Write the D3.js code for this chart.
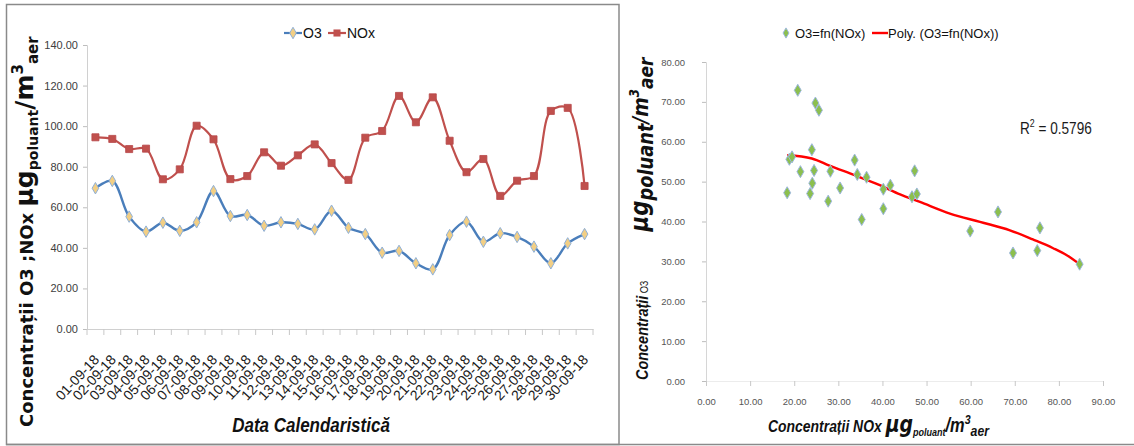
<!DOCTYPE html>
<html>
<head>
<meta charset="utf-8">
<script src="https://cdn.jsdelivr.net/npm/d3@7/dist/d3.min.js"></script>
<style>
body { margin: 0; background: #fff; }
svg { display: block; }
</style>
</head>
<body>
<div id="chart"></div>
<script>
// Data - left chart (daily concentrations, September 2018)
var dates = ["01-09-18","02-09-18","03-09-18","04-09-18","05-09-18","06-09-18","07-09-18","08-09-18","09-09-18","10-09-18",
  "11-09-18","12-09-18","13-09-18","14-09-18","15-09-18","16-09-18","17-09-18","18-09-18","19-09-18","20-09-18",
  "21-09-18","22-09-18","23-09-18","24-09-18","25-09-18","26-09-18","27-09-18","28-09-18","29-09-18","30-09-18"];
var o3Values = [69.4,73.0,55.4,48.0,52.4,48.4,52.6,68.0,55.7,56.2,50.9,52.6,51.8,49.1,58.3,
  49.9,46.8,37.6,38.5,32.4,29.4,46.3,52.9,43.0,47.2,45.4,40.6,32.4,42.2,46.8];
var noxValues = [94.5,93.7,88.7,88.9,73.8,78.7,100.2,93.5,73.9,75.4,87.1,80.5,85.6,91.0,81.8,
  73.5,94.3,97.6,114.9,101.9,114.2,92.8,77.3,83.8,65.6,73.1,75.4,107.5,109.0,70.5];
var leftTicks = [0,20,40,60,80,100,120,140];

// Data - right chart (O3 = fn(NOx))
var scatterNox = [18.4,18.9,19.5,20.8,21.4,23.6,24.0,24.1,24.5,24.8,25.6,27.7,28.2,30.4,33.7,
  34.3,35.3,36.4,40.2,40.2,41.8,46.7,47.3,47.8,66.2,59.9,69.6,75.1,75.7,84.7];
var scatterO3 = [47.2,55.6,56.2,72.9,52.5,47.0,58.0,49.6,52.8,69.7,67.9,45.1,52.6,48.4,55.4,
  51.8,40.5,51.1,43.2,48.1,49.1,46.2,52.7,46.9,42.4,37.6,32.1,32.7,38.4,29.3];
// Polynomial trend line
var trendNox = [18.4,24,28,33.7,39.4,44,48.5,55.3,62.1,68.9,74.1,78.7,81.7,84.7];
var trendO3 = [56.6,55.8,54.0,51.6,49.1,46.8,44.9,42.0,39.9,37.8,35.5,33.3,31.6,29.3];
var scatterXTicks = [0,10,20,30,40,50,60,70,80,90];
var scatterYTicks = [0,10,20,30,40,50,60,70,80];
var rSquared = "0.5796";

var W = 1134, H = 446;
var svg = d3.select("#chart").append("svg").attr("width", W).attr("height", H);
var fmt = d3.format(".2f");
var sans = "'Liberation Sans',Arial,sans-serif";
var dejavu = "'DejaVu Sans',Verdana,sans-serif";

// frames
svg.append("rect").attr("x", 6.5).attr("y", 4.5).attr("width", 612.5).attr("height", 440)
  .attr("fill", "none").attr("stroke", "#8a8a8a").attr("stroke-width", 1.5);
svg.append("line").attr("x1", 6).attr("x2", W).attr("y1", 444.5).attr("y2", 444.5)
  .attr("stroke", "#8a8a8a").attr("stroke-width", 1.5);

// ---------- LEFT CHART ----------
var x = d3.scaleBand().domain(dates).range([87, 593]);
var y = d3.scaleLinear().domain([0, 140]).range([329, 45]);
var left = svg.append("g");

var yAxis = left.append("g").attr("transform", "translate(87,0)")
  .call(d3.axisLeft(y).tickValues(leftTicks).tickFormat(fmt).tickSize(4).tickPadding(5));
yAxis.select(".domain").attr("stroke", "#d0d0d0");
yAxis.selectAll(".tick line").attr("stroke", "#bdbdbd");
yAxis.selectAll("text").attr("font-family", sans).attr("font-size", 11).attr("fill", "#404040");

var xAxis = left.append("g").attr("transform", "translate(0,329)")
  .call(d3.axisBottom(x).tickSize(0).tickPadding(0));
xAxis.select(".domain").attr("stroke", "#d0d0d0");
xAxis.selectAll("text").attr("font-family", sans).attr("font-size", 14).attr("fill", "#202020")
  .attr("text-anchor", "end").attr("y", 0).attr("dy", "0.35em")
  .attr("transform", "translate(1,28) rotate(-47)");
// category separators (tick marks between dates)
var edges = dates.map(function(d) { return x(d); }).concat([x.range()[1]]);
left.append("g").selectAll("line").data(edges).join("line")
  .attr("x1", function(d) { return d; }).attr("x2", function(d) { return d; })
  .attr("y1", 329).attr("y2", 335).attr("stroke", "#c8c8c8");

var cx = function(d, i) { return x(dates[i]) + x.bandwidth() / 2; };
var line = d3.line().x(function(d, i) { return cx(d, i); }).y(function(d) { return y(d); })
  .curve(d3.curveCatmullRom.alpha(0.5));

left.append("path").datum(noxValues).attr("d", line).attr("fill", "none")
  .attr("stroke", "#c0504d").attr("stroke-width", 2.2);
left.append("path").datum(o3Values).attr("d", line).attr("fill", "none")
  .attr("stroke", "#4a7ebb").attr("stroke-width", 2.4);

var sq = d3.symbol().type(d3.symbolSquare).size(50);
var dia = d3.symbol().type(d3.symbolDiamond).size(38);
left.append("g").selectAll("path").data(noxValues).join("path").attr("d", sq)
  .attr("transform", function(d, i) { return "translate(" + cx(d, i) + "," + y(d) + ")"; })
  .attr("fill", "#c0504d").attr("stroke", "#b8474a").attr("stroke-width", 0.8);
left.append("g").selectAll("path").data(o3Values).join("path").attr("d", dia)
  .attr("transform", function(d, i) { return "translate(" + cx(d, i) + "," + y(d) + ")"; })
  .attr("fill", "#f2cf85").attr("stroke", "#8fb0d8").attr("stroke-width", 1);

// legend
var lg = left.append("g").attr("font-family", sans).attr("font-size", 14).attr("fill", "#111");
lg.append("line").attr("x1", 284).attr("x2", 302).attr("y1", 33).attr("y2", 33).attr("stroke", "#4a7ebb").attr("stroke-width", 2.2);
lg.append("path").attr("d", dia).attr("transform", "translate(293,33)").attr("fill", "#f2cf85").attr("stroke", "#8fb0d8");
lg.append("text").attr("x", 303).attr("y", 38).text("O3");
lg.append("line").attr("x1", 328).attr("x2", 346).attr("y1", 33).attr("y2", 33).attr("stroke", "#c0504d").attr("stroke-width", 2.2);
lg.append("path").attr("d", sq).attr("transform", "translate(337,33)").attr("fill", "#c0504d");
lg.append("text").attr("x", 347).attr("y", 38).text("NOx");

// axis titles
left.append("text").attr("transform", "translate(311,432) scale(0.85,1)").attr("text-anchor", "middle")
  .attr("font-family", sans).attr("font-weight", "bold").attr("font-style", "italic")
  .attr("font-size", 20).attr("fill", "#111").text("Data Calendaristică");

var yt = left.append("text").attr("transform", "translate(33,427) rotate(-90)")
  .attr("font-family", dejavu).attr("font-weight", "bold").attr("fill", "#111");
yt.append("tspan").attr("font-size", 18).text("Concentrații O3 ;NOx ");
yt.append("tspan").attr("font-size", 25).text("µg");
yt.append("tspan").attr("font-size", 14).attr("dy", 5).text("poluant");
yt.append("tspan").attr("font-size", 25).attr("dy", -5).text("/m");
yt.append("tspan").attr("font-size", 15).attr("dy", -10).text("3");
yt.append("tspan").attr("font-size", 15).attr("dy", 15).text("aer");

// ---------- RIGHT CHART ----------
var sx = d3.scaleLinear().domain([0, 90]).range([706, 1103]);
var sy = d3.scaleLinear().domain([0, 80]).range([381, 62]);
var right = svg.append("g");

var syAxis = right.append("g").attr("transform", "translate(706,0)")
  .call(d3.axisLeft(sy).tickValues(scatterYTicks).tickFormat(fmt).tickSize(4).tickPadding(17));
syAxis.select(".domain").attr("stroke", "#d6d6d6");
syAxis.selectAll(".tick line").attr("stroke", "#bdbdbd");
syAxis.selectAll("text").attr("font-family", sans).attr("font-size", 9.5).attr("fill", "#555");

var sxAxis = right.append("g").attr("transform", "translate(0,381)")
  .call(d3.axisBottom(sx).tickValues(scatterXTicks).tickFormat(fmt).tickSize(5).tickPadding(12));
sxAxis.select(".domain").attr("stroke", "#ececec");
sxAxis.selectAll(".tick line").attr("stroke", "#c8c8c8");
sxAxis.selectAll("text").attr("font-family", sans).attr("font-size", 9.5).attr("fill", "#555");

var trendLine = d3.line().x(function(d, i) { return sx(trendNox[i]); }).y(function(d) { return sy(d); })
  .curve(d3.curveMonotoneX);
right.append("path").datum(trendO3).attr("d", trendLine).attr("fill", "none")
  .attr("stroke", "#ff0000").attr("stroke-width", 2.4);

var sdia = d3.symbol().type(d3.symbolDiamond).size(42);
right.append("g").selectAll("path").data(scatterO3).join("path").attr("d", sdia)
  .attr("transform", function(d, i) { return "translate(" + sx(scatterNox[i]) + "," + sy(d) + ")"; })
  .attr("fill", "#8cbf4f").attr("stroke", "#9db8de").attr("stroke-width", 1);

var r2 = right.append("text").attr("transform", "translate(1020,134) scale(0.8,1)")
  .attr("font-family", sans).attr("font-size", 17).attr("fill", "#1a1a1a");
r2.append("tspan").text("R");
r2.append("tspan").attr("font-size", 11).attr("dy", -7).text("2");
r2.append("tspan").attr("dy", 7).text(" = " + rSquared);

// legend
var rl = right.append("g").attr("font-family", sans).attr("font-size", 13).attr("fill", "#111");
rl.append("path").attr("d", d3.symbol().type(d3.symbolDiamond).size(30)).attr("transform", "translate(786,33)")
  .attr("fill", "#8cbf4f").attr("stroke", "#9db8de");
rl.append("text").attr("x", 795).attr("y", 38).text("O3=fn(NOx)");
rl.append("line").attr("x1", 872).attr("x2", 888).attr("y1", 33).attr("y2", 33).attr("stroke", "#ff0000").attr("stroke-width", 2.4);
rl.append("text").attr("x", 888).attr("y", 38).text("Poly. (O3=fn(NOx))");

// axis titles
var xt = right.append("text").attr("transform", "translate(768,432) scale(0.82,1)")
  .attr("font-family", sans).attr("font-weight", "bold").attr("font-style", "italic").attr("fill", "#111");
xt.append("tspan").attr("font-size", 17).text("Concentrații NOx ");
xt.append("tspan").attr("font-size", 23).attr("font-family", dejavu).text("µg");
xt.append("tspan").attr("font-size", 11).attr("dy", 4).text("poluant");
xt.append("tspan").attr("font-size", 20).attr("dy", -4).text("/m");
xt.append("tspan").attr("font-size", 13).attr("dy", -8).text("3");
xt.append("tspan").attr("font-size", 15).attr("dy", 12).text("aer");

var syt = right.append("text").attr("transform", "translate(648,380) rotate(-90) scale(0.85,1)")
  .attr("font-family", sans).attr("font-weight", "bold").attr("font-style", "italic").attr("fill", "#111");
syt.append("tspan").attr("font-size", 17).text("Concentrații");
syt.append("tspan").attr("font-size", 11).attr("font-weight", "normal").attr("font-style", "normal").text(" O3");
syt.append("tspan").attr("font-size", 25).attr("font-family", dejavu).attr("dx", 58).text("µg");
syt.append("tspan").attr("font-size", 21).attr("font-family", dejavu).attr("dy", 5).text("poluant");
syt.append("tspan").attr("font-size", 22).attr("font-family", dejavu).attr("dy", -5).text("/m");
syt.append("tspan").attr("font-size", 14).attr("font-family", dejavu).attr("dy", -9).text("3");
syt.append("tspan").attr("font-size", 20).attr("font-family", dejavu).attr("dy", 14).text("aer");
</script>
</body>
</html>
